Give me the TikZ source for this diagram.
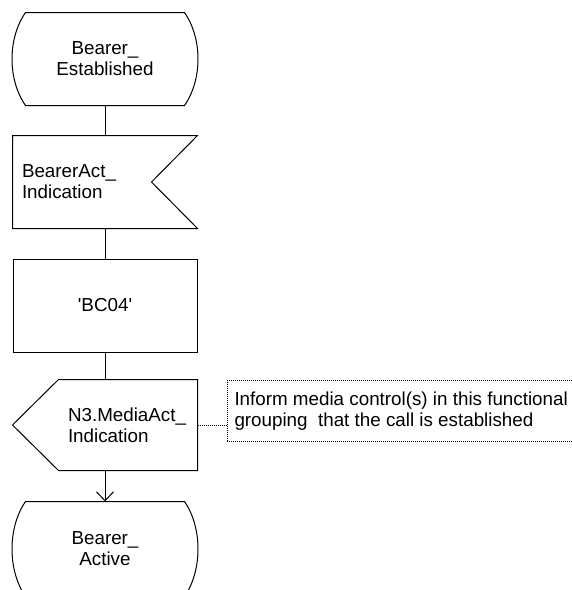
\documentclass[tikz,border=0pt]{standalone}
\usepackage{fontspec}
\setmainfont{Liberation Sans}[Ligatures=TeXOff]
\usetikzlibrary{arrows.meta,positioning}

\newcommand\stateoutline[1]{%
  \draw ([xshift=13pt]#1.north west) -- ([xshift=-13pt]#1.north east)
    .. controls ([xshift=5pt,yshift=-26pt]#1.north east) and ([xshift=5pt,yshift=26pt]#1.south east) .. ([xshift=-13pt]#1.south east)
    -- ([xshift=13pt]#1.south west)
    .. controls ([xshift=-5pt,yshift=26pt]#1.south west) and ([xshift=-5pt,yshift=-26pt]#1.north west) .. cycle;}

\begin{document}
\begin{tikzpicture}[x=1pt,y=-1pt,line width=1pt,
    font=\fontsize{18.8}{21}\selectfont,
    sym/.style={minimum width=184pt,minimum height=92pt,inner sep=0pt},
    sdlstate/.style={sym,align=center},
    sdlsig/.style={sym,align=left,text width=166pt},
    cmt/.style={dash pattern=on 1pt off 1pt,line width=0.8pt}]
  \useasboundingbox (0,0) rectangle (572,590);
  \node[sdlstate] (est) at (105,59) {Bearer\_\\Established};
  \stateoutline{est}
  \node[sdlsig,below=30pt of est] (act) {BearerAct\_\\Indication};
  \draw (act.north west) -- (act.north east) -- ([xshift=-46pt]act.east)
    -- (act.south east) -- (act.south west) -- cycle;
  \node[sym,draw,minimum height=93pt,below=30pt of act] (bc) {'BC04'};
  \node[sdlsig,minimum width=138pt,text width=120pt,minimum height=90pt] (out) at (128,425) {N3.MediaAct\_\\Indication};
  \draw (out.north west) -- (out.north east) -- (out.south east)
    -- (out.south west) -- ([xshift=-46pt]out.west) -- cycle;
  \node[sdlstate,minimum height=94pt] (active) at (105,549) {Bearer\_\\Active};
  \stateoutline{active}
  \node[align=left,anchor=west,minimum height=60pt,inner xsep=7pt,inner ysep=0pt] (note) at (227,411)
    {Inform media control(s) in this functional\\grouping\ \ that the call is established};
  \coordinate (edge) at (572,411);
  \draw (est) -- (act);
  \draw (act) -- (bc);
  \draw (bc.south) -- (bc.south |- out.north);
  \draw[-{Straight Barb[length=9pt,width=17pt]}] (active.north |- out.south) -- (active.north);
  \draw[cmt] (out.east) -- (out.east -| note.west);
  \draw[cmt] (note.north west -| edge) -- (note.north west) -- (note.south west) -- (note.south west -| edge);
\end{tikzpicture}
\end{document}
